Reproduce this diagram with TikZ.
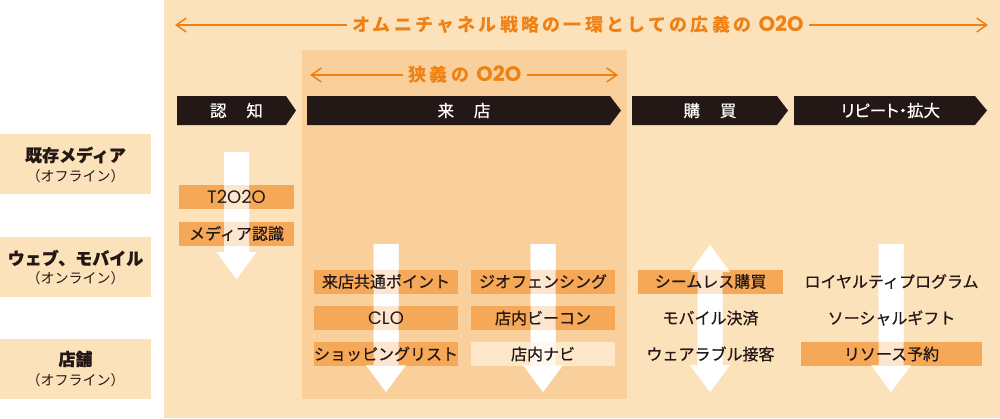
\documentclass[tikz,border=0pt]{standalone}
\usepackage{fontspec}
\setmainfont{Noto Sans CJK JP}
\newfontfamily\jpwide[LetterSpace=18]{Noto Sans CJK JP}
\newfontfamily\jpmed[FakeBold=0.6]{Noto Sans CJK JP}
\newfontfamily\jpmedp[FakeBold=0.6,RawFeature=+palt]{Noto Sans CJK JP}
\newfontfamily\jpheavy[BoldFeatures={FakeBold=0.7}]{Noto Sans CJK JP}
\newfontfamily\lat{Poppins}
\usetikzlibrary{arrows.meta}
\definecolor{bgL}{RGB}{252,226,186}
\definecolor{bgI}{RGB}{249,208,155}
\definecolor{boxO}{RGB}{245,168,87}
\definecolor{boxL}{RGB}{253,232,202}
\definecolor{hdr}{RGB}{238,128,20}
\definecolor{ink}{RGB}{35,24,21}
\newcommand{\dnArrow}[5]{\fill[#1] ({#2-12.5},#3) -- ({#2+12.5},#3) -- ({#2+12.5},#4) -- ({#2+20},#4) -- (#2,#5) -- ({#2-20},#4) -- ({#2-12.5},#4) -- cycle;}
\newcommand{\udArrow}[6]{\fill[#1] (#2,#3) -- ({#2+20},#4) -- ({#2+12.5},#4) -- ({#2+12.5},#5) -- ({#2+20},#5) -- (#2,#6) -- ({#2-20},#5) -- ({#2-12.5},#5) -- ({#2-12.5},#4) -- ({#2-20},#4) -- cycle;}
\tikzset{
  hdrtxt/.style={text=hdr, font=\jpwide\bfseries\fontsize{18}{21}\selectfont, inner sep=5pt},
  hdrarrow/.style={draw=hdr, line width=1.5pt, -{Straight Barb[length=10pt,width=14pt,line width=1.5pt]}},
  chevtxt/.style={text=white, font=\jpmed\fontsize{16.5}{19}\selectfont, inner sep=0pt},
  itembox/.style={fill=boxO, inner sep=0pt, minimum height=24pt},
  itemtxt/.style={text=ink, font=\jpmed\fontsize{16}{19}\selectfont, inner sep=0pt},
  lattxt/.style={text=ink, font=\lat\fontsize{18}{20}\selectfont, inner sep=0pt},
  labbox/.style={fill=bgL, inner sep=0pt, minimum width=151pt, minimum height=60pt},
  labtitle/.style={text=ink, font=\jpheavy\bfseries\fontsize{17}{20}\selectfont, inner sep=0pt},
  labsub/.style={text=ink, font=\fontsize{14}{16}\selectfont, inner sep=0pt},
}
\begin{document}
\begin{tikzpicture}[x=1pt,y=-1pt]
\useasboundingbox (0,0) rectangle (1000,418);
% backgrounds
\fill[bgL] (164,0) rectangle (1000,418);
\fill[bgI] (302,50) rectangle (627,399);
% left labels
\node[labbox] (lab1) at (75.5,164) {};
\node[labbox] (lab2) at (75.5,267) {};
\node[labbox] (lab3) at (75.5,369) {};
\node[labtitle] (lab1t) at (75.5,155) {既存メディア};
\node[labsub] (lab1s) at (75.5,176) {（オフライン）};
\node[labtitle] (lab2t) at (75.5,258) {ウェブ、モバイル};
\node[labsub] (lab2s) at (75.5,278) {（オンライン）};
\node[labtitle] (lab3t) at (75.5,359) {店舗};
\node[labsub] (lab3s) at (75.5,380) {（オフライン）};
% header arrows
\node[hdrtxt] (h1) at (578,25) {オムニチャネル戦略の一環としての広義の {\lat\bfseries\fontsize{21}{22}\selectfont O2O}};
\coordinate (h1L) at (175,25);
\coordinate (h1R) at (988,25);
\draw[hdrarrow] (h1.west) -- (h1L);
\draw[hdrarrow] (h1.east) -- (h1R);
\node[hdrtxt] (h2) at (465,75) {狭義の {\lat\bfseries\fontsize{21}{22}\selectfont O2O}};
\coordinate (h2L) at (310,75);
\coordinate (h2R) at (618,75);
\draw[hdrarrow] (h2.west) -- (h2L);
\draw[hdrarrow] (h2.east) -- (h2R);
% chevrons
\fill[ink] (177,96) -- (286,96) -- (296,110.5) -- (286,125) -- (177,125) -- cycle;
\fill[ink] (307,96) -- (610,96) -- (621,110.5) -- (610,125) -- (307,125) -- cycle;
\fill[ink] (632,96) -- (777,96) -- (788,110.5) -- (777,125) -- (632,125) -- cycle;
\fill[ink] (794,96) -- (975,96) -- (987,110.5) -- (975,125) -- (794,125) -- cycle;
\node[chevtxt] (c1) at (236.5,110.5) {認\hspace{1.2em}知};
\node[chevtxt] (c2) at (464,110.5) {来\hspace{1.2em}店};
\node[chevtxt] (c3) at (710,110.5) {購\hspace{1.2em}買};
\node[chevtxt, font=\jpmedp\fontsize{16.5}{19}\selectfont] (c4) at (890.5,110.5) {リピート・拡大};
% opaque arrows
\dnArrow{white}{236.5}{152}{252}{279}
\dnArrow{white}{386}{244}{365}{392}
\dnArrow{white}{543}{244}{365}{392}
\udArrow{white}{710}{245}{272}{365}{392}
\dnArrow{white}{891}{244}{365}{392}
% boxes
\node[itembox, minimum width=115pt] (b11) at (236.5,197) {};
\node[itembox, minimum width=115pt] (b12) at (236.5,233.5) {};
\node[itembox, minimum width=144pt] (b21) at (386,281.5) {};
\node[itembox, minimum width=144pt] (b22) at (386,318) {};
\node[itembox, minimum width=144pt] (b23) at (386,354) {};
\node[itembox, minimum width=144pt] (b31) at (543,281.5) {};
\node[itembox, minimum width=144pt] (b32) at (543,318) {};
\node[itembox, minimum width=144pt, fill=boxL] (b33) at (543,354) {};
\node[itembox, minimum width=145pt] (b41) at (710.5,281.5) {};
\node[itembox, minimum width=181pt] (b53) at (891.5,354) {};
% translucent arrows over boxes
\dnArrow{white,fill opacity=0.72}{236.5}{152}{252}{279}
\dnArrow{white,fill opacity=0.72}{386}{244}{365}{392}
\dnArrow{white,fill opacity=0.72}{543}{244}{365}{392}
\udArrow{white,fill opacity=0.72}{710}{245}{272}{365}{392}
\dnArrow{white,fill opacity=0.72}{891}{244}{365}{392}
% texts
\node[lattxt] (t11) at (b11) {T2O2O};
\node[itemtxt] (t12) at (b12) {メディア認識};
\node[itemtxt] (t21) at (b21) {来店共通ポイント};
\node[lattxt] (t22) at (b22) {CLO};
\node[itemtxt] (t23) at (b23) {ショッピングリスト};
\node[itemtxt] (t31) at (b31) {ジオフェンシング};
\node[itemtxt] (t32) at (b32) {店内ビーコン};
\node[itemtxt] (t33) at (b33) {店内ナビ};
\node[itemtxt] (t41) at (b41) {シームレス購買};
\node[itemtxt] (t42) at (710.5,318) {モバイル決済};
\node[itemtxt] (t43) at (710.5,354) {ウェアラブル接客};
\node[itemtxt] (t51) at (891.5,281.5) {ロイヤルティプログラム};
\node[itemtxt] (t52) at (891.5,318) {ソーシャルギフト};
\node[itemtxt] (t53) at (b53) {リソース予約};
\end{tikzpicture}
\end{document}
